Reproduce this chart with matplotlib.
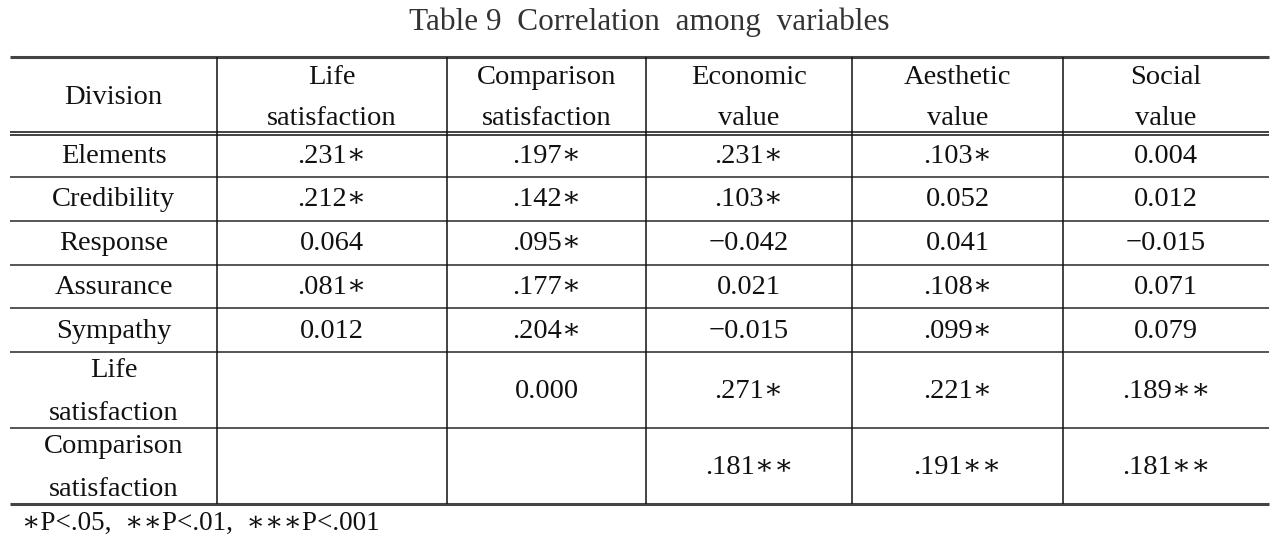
import matplotlib
matplotlib.use("Agg")
import matplotlib.pyplot as plt

title = "Table 9  Correlation  among  variables"
col_headers = ["Division", "Life\nsatisfaction", "Comparison\nsatisfaction",
               "Economic\nvalue", "Aesthetic\nvalue", "Social\nvalue"]
row_labels = ["Elements", "Credibility", "Response", "Assurance", "Sympathy",
              "Life\nsatisfaction", "Comparison\nsatisfaction"]

# correlation values per column (None = empty cell)
life_sat = [0.231, 0.212, 0.064, 0.081, 0.012, None, None]
comp_sat = [0.197, 0.142, 0.095, 0.177, 0.204, 0.000, None]
econ_val = [0.231, 0.103, -0.042, 0.021, -0.015, 0.271, 0.181]
aesth_val = [0.103, 0.052, 0.041, 0.108, 0.099, 0.221, 0.191]
social_val = [0.004, 0.012, -0.015, 0.071, 0.079, 0.189, 0.181]

# significance stars per column (0 = not significant)
life_sig = [1, 1, 0, 1, 0, 0, 0]
comp_sig = [1, 1, 1, 1, 1, 0, 0]
econ_sig = [1, 1, 0, 0, 0, 1, 2]
aesth_sig = [1, 0, 0, 1, 1, 1, 2]
social_sig = [0, 0, 0, 0, 0, 2, 2]

footnote = "\u2217P<.05,  \u2217\u2217P<.01,  \u2217\u2217\u2217P<.001"

columns = [life_sat, comp_sat, econ_val, aesth_val, social_val]
sigs = [life_sig, comp_sig, econ_sig, aesth_sig, social_sig]


def fmt(v, s):
    if v is None:
        return ""
    if s > 0:
        txt = ("%.3f" % v).replace("0.", ".", 1)
        return txt.replace("-", "\u2212") + "\u2217" * s
    return ("%.3f" % v).replace("-", "\u2212")


W, H = 1279, 545
fig = plt.figure(figsize=(W / 100, H / 100), dpi=100)
ax = fig.add_axes([0, 0, 1, 1])
ax.set_xlim(0, W)
ax.set_ylim(H, 0)
ax.axis("off")

fam = ["Liberation Serif", "DejaVu Serif"]
fs = 20.5
tc = "#111111"
ls_hdr = 1.85
ls_row = 1.95

xb = [10, 217, 447, 646, 852, 1063, 1269]
yb = [57, 133.5, 177, 221, 264.5, 308, 352, 428, 504]

# title
ax.text(649, 22, title, ha="center", va="center", fontsize=22.5, family=fam, color="#333333")

# horizontal lines
ax.plot([xb[0], xb[-1]], [yb[0], yb[0]], color="#444444", lw=2.2, solid_capstyle="butt")
ax.plot([xb[0], xb[-1]], [132, 132], color="#222222", lw=1.2, solid_capstyle="butt")
ax.plot([xb[0], xb[-1]], [135.3, 135.3], color="#222222", lw=1.2, solid_capstyle="butt")
for y in yb[2:-1]:
    ax.plot([xb[0], xb[-1]], [y, y], color="#555555", lw=1.4, solid_capstyle="butt")
ax.plot([xb[0], xb[-1]], [yb[-1], yb[-1]], color="#444444", lw=2.2, solid_capstyle="butt")

# vertical lines
for x in xb[1:-1]:
    ax.plot([x, x], [yb[0], yb[-1]], color="#111111", lw=1.1, solid_capstyle="butt")

# header
hc = (yb[0] + 132) / 2
for j, h in enumerate(col_headers):
    xc = (xb[j] + xb[j + 1]) / 2
    ax.text(xc, hc + 3.5, h, ha="center", va="center", fontsize=fs, family=fam,
            color=tc, linespacing=ls_hdr)

# body
for i, lab in enumerate(row_labels):
    yc = (yb[i + 1] + yb[i + 2]) / 2 + 1
    ax.text((xb[0] + xb[1]) / 2, yc + (1 if "\n" in lab else 0), lab, ha="center",
            va="center", fontsize=fs, family=fam, color=tc, linespacing=ls_row)
    for j in range(5):
        xc = (xb[j + 1] + xb[j + 2]) / 2
        ax.text(xc, yc, fmt(columns[j][i], sigs[j][i]), ha="center", va="center",
                fontsize=fs, family=fam, color=tc)

ax.text(22, 523, footnote, ha="left", va="center", fontsize=19.5, family=fam, color=tc)

fig.savefig("out.png", dpi=100)
